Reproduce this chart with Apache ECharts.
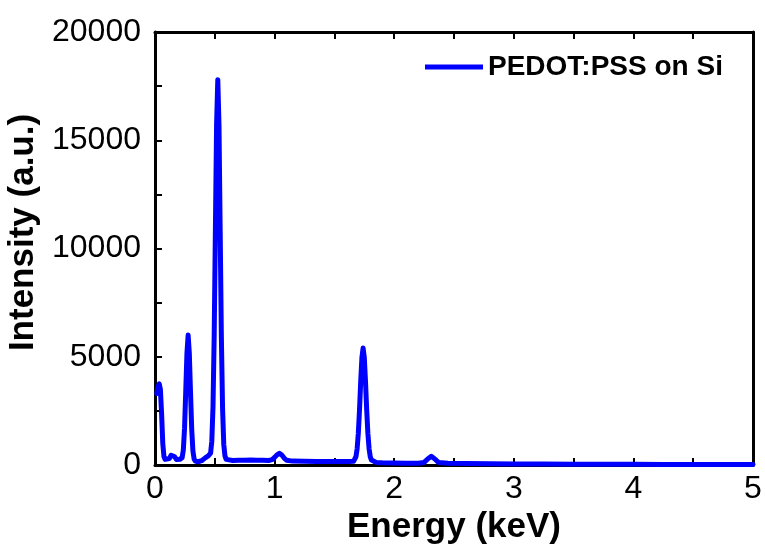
<!DOCTYPE html>
<html>
<head>
<meta charset="utf-8">
<script src="https://cdn.jsdelivr.net/npm/echarts@6/dist/echarts.min.js"></script>
<style>html,body{margin:0;padding:0;background:#fff}#c{width:765px;height:554px}</style>
</head>
<body>
<div id="c"></div>
<script>
const seriesName = 'PEDOT:PSS on Si';
const xTitle = 'Energy (keV)';
const yTitle = 'Intensity (a.u.)';
const energy = [
  0.015, 0.025, 0.035, 0.045, 0.055, 0.065, 0.075, 0.085, 0.10, 0.12, 0.135, 0.15, 0.165, 0.18, 0.195,
  0.207, 0.217, 0.227, 0.237, 0.247, 0.257, 0.267, 0.277, 0.287, 0.297, 0.307, 0.317, 0.327, 0.337, 0.36,
  0.39, 0.42, 0.445, 0.455, 0.465, 0.475, 0.485, 0.495, 0.505, 0.515, 0.525, 0.535, 0.545, 0.555, 0.565,
  0.575, 0.585, 0.595, 0.61, 0.65, 0.70, 0.75, 0.80, 0.85, 0.90, 0.95, 0.98, 1.00, 1.02, 1.04, 1.06, 1.08,
  1.10, 1.15, 1.25, 1.35, 1.45, 1.55, 1.62, 1.66, 1.67, 1.68, 1.69, 1.70, 1.71, 1.72, 1.73, 1.74, 1.75,
  1.76, 1.77, 1.78, 1.79, 1.80, 1.81, 1.82, 1.85, 1.90, 2.00, 2.10, 2.20, 2.25, 2.28, 2.31, 2.34, 2.37,
  2.45, 2.60, 2.80, 3.00, 3.25, 3.50, 3.75, 4.00, 4.25, 4.50, 4.75, 5.00
];
const intensity = [
  3300, 3600, 3750, 3500, 2400, 1000, 380, 260, 250, 300, 450, 500, 380, 250, 260,
  260, 270, 340, 700, 1700, 3400, 5150, 6000, 5150, 3350, 1650, 650, 280, 180, 150,
  200, 330, 420, 480, 550, 1100, 2700, 6000, 10900, 15750, 17800, 15700, 10800, 5900, 2600,
  950, 420, 260, 210, 210, 220, 225, 230, 225, 220, 210, 250, 350, 470, 540, 460, 320,
  220, 180, 170, 165, 160, 160, 160, 170, 220, 380, 750, 1460, 2550, 3860, 4960, 5400, 4960,
  3860, 2550, 1460, 750, 380, 230, 160, 120, 100, 90, 80, 80, 120, 280, 400, 280, 120,
  80, 70, 60, 50, 45, 40, 35, 30, 28, 25, 22, 20
];
const xTicks = [0, 1, 2, 3, 4, 5];
const yTicks = [0, 5000, 10000, 15000, 20000];

const data = energy.map((e, i) => [e, intensity[i]]);
const chart = echarts.init(document.getElementById('c'));
const font = 'Liberation Sans, Arial, sans-serif';
function line() { return { show: true, onZero: false, lineStyle: { color: '#000', width: 3 } }; }
function tick(show) { return { show: show, inside: true, length: 7, lineStyle: { width: 2, color: '#000' } }; }
function minor(show) { return { show: show, splitNumber: 2, length: 7, lineStyle: { width: 2, color: '#000' } }; }
chart.setOption({
  animation: false,
  backgroundColor: '#fff',
  grid: { left: 155, right: 12, top: 32, bottom: 89, containLabel: false, outerBoundsMode: 'none' },
  legend: {
    data: [seriesName],
    left: 420, top: 48,
    icon: 'rect', itemWidth: 58, itemHeight: 5, itemGap: 8,
    textStyle: { fontFamily: font, fontWeight: 'bold', fontSize: 28, color: '#000' }
  },
  xAxis: [
    {
      type: 'value', position: 'bottom', min: xTicks[0], max: xTicks[xTicks.length - 1], interval: 1,
      name: xTitle, nameLocation: 'middle', nameGap: 42,
      nameTextStyle: { fontFamily: font, fontWeight: 'bold', fontSize: 35, color: '#000' },
      axisLine: line(), axisTick: tick(true), minorTick: minor(true),
      axisLabel: { fontFamily: font, fontSize: 32, color: '#000', margin: 8, formatter: v => String(v) },
      splitLine: { show: false }, minorSplitLine: { show: false }
    },
    {
      type: 'value', position: 'top', min: 0, max: 5, interval: 1,
      axisLine: line(), axisTick: tick(true), minorTick: minor(true),
      axisLabel: { show: false },
      splitLine: { show: false }
    }
  ],
  yAxis: [
    {
      type: 'value', position: 'left', min: yTicks[0], max: yTicks[yTicks.length - 1], interval: 5000,
      name: yTitle, nameLocation: 'middle', nameGap: 106,
      nameTextStyle: { fontFamily: font, fontWeight: 'bold', fontSize: 35, color: '#000', padding: [0, 0, 0, 32] },
      axisLine: line(), axisTick: tick(true), minorTick: minor(true),
      axisLabel: { fontFamily: font, fontSize: 32, color: '#000', margin: 14, formatter: v => String(v) },
      splitLine: { show: false }
    },
    {
      type: 'value', position: 'right', min: 0, max: 20000, interval: 5000,
      axisLine: line(), axisTick: tick(false), axisLabel: { show: false }, splitLine: { show: false }
    }
  ],
  series: [{
    name: seriesName, type: 'line', data: data, showSymbol: false, symbol: 'none',
    clip: true, z: 1,
    lineStyle: { color: '#0000ff', width: 5, join: 'round', cap: 'round' },
    itemStyle: { color: '#0000ff' }
  }]
});
</script>
</body>
</html>
